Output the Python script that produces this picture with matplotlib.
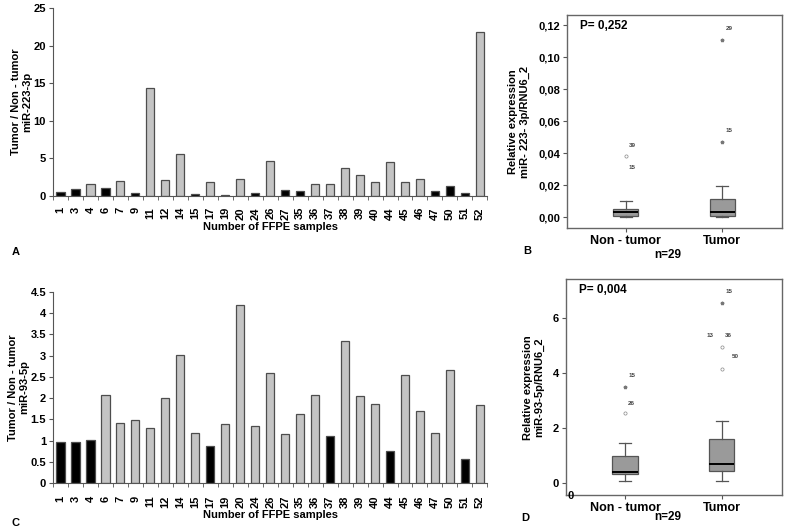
import matplotlib
matplotlib.use("Agg")
import matplotlib.pyplot as plt

plt.rcParams["font.family"] = ["Liberation Sans", "DejaVu Sans"]
plt.rcParams["font.weight"] = "bold"
plt.rcParams["axes.labelweight"] = "bold"

# samples (FFPE numbers)
samples = ["1", "3", "4", "6", "7", "9", "11", "12", "14", "15", "17", "19", "20", "24", "26",
           "27", "35", "36", "37", "38", "39", "40", "44", "45", "46", "47", "50", "51", "52"]

# A: miR-223-3p tumor / non-tumor
ratio_223 = [0.57, 0.88, 1.6, 1.06, 2.0, 0.35, 14.4, 2.1, 5.6, 0.2, 1.9, 0.1, 2.3, 0.45, 4.7,
             0.85, 0.65, 1.65, 1.55, 3.7, 2.8, 1.9, 4.5, 1.9, 2.3, 0.6, 1.35, 0.45, 21.8]
down_223 = ["1", "3", "6", "9", "15", "19", "24", "27", "35", "47", "50", "51"]

# C: miR-93-5p tumor / non-tumor
ratio_93 = [0.97, 0.98, 1.02, 2.07, 1.42, 1.49, 1.31, 2.0, 3.02, 1.19, 0.87, 1.4, 4.18, 1.34, 2.59,
            1.15, 1.63, 2.08, 1.1, 3.35, 2.05, 1.87, 0.76, 2.55, 1.7, 1.18, 2.66, 0.57, 1.85]
down_93 = ["1", "3", "4", "17", "37", "44", "51"]

groups = ["Non - tumor", "Tumor"]

# B: boxplot stats miR-223-3p
box_223 = [
    dict(whislo=0.0003, q1=0.001, med=0.003, q3=0.005, whishi=0.010),
    dict(whislo=0.0003, q1=0.001, med=0.003, q3=0.0115, whishi=0.0195),
]
out_223_stars = [[], [0.111, 0.047]]
out_223_circ = [[0.038], []]
out_223_labels = [[("39", 0.045), ("15", 0.031)], [("29", 0.118), ("15", 0.054)]]

# D: boxplot stats miR-93-5p
box_93 = [
    dict(whislo=0.1, q1=0.35, med=0.42, q3=0.98, whishi=1.47),
    dict(whislo=0.1, q1=0.45, med=0.72, q3=1.62, whishi=2.25),
]
out_93_stars = [[3.5], [6.55]]
out_93_circ = [[2.55], [4.95, 4.15]]
out_93_labels = [[("15", 3.9, 0.07), ("26", 2.9, 0.07)],
                 [("15", 6.95, 0.07), ("13", 5.35, -0.12), ("36", 5.35, 0.07), ("50", 4.6, 0.14)]]


def bar_panel(ax, values, down, ymax, yticks, ylabels, ylab, pad, labx):
    x = range(len(samples))
    colors = ["black" if s in down else "#c4c4c4" for s in samples]
    ax.bar(x, values, width=0.55, color=colors, edgecolor="#4d4d4d", linewidth=0.9)
    ax.set_xlim(-0.5, len(samples) - 0.5)
    ax.set_ylim(0, ymax)
    ax.set_xticks(list(x))
    ax.set_xticklabels(samples, rotation=90, fontsize=8, fontweight="bold")
    ax.set_xticks([i - 0.5 for i in range(len(samples) + 1)], minor=True)
    ax.tick_params(axis="x", which="major", length=0, pad=pad)
    ax.tick_params(axis="x", which="minor", length=3, direction="out", color="#555555")
    ax.set_yticks(yticks)
    ax.set_yticklabels(ylabels, fontsize=8, fontweight="bold")
    ax.tick_params(axis="y", length=3, color="#555555", pad=2)
    for side in ["top", "right"]:
        ax.spines[side].set_visible(False)
    for side in ["left", "bottom"]:
        ax.spines[side].set_color("#555555")
    ax.set_ylabel(ylab, fontsize=8, fontweight="bold")
    ax.yaxis.set_label_coords(labx, 0.5)
    ax.set_xlabel("Number of FFPE samples", fontsize=8, fontweight="bold", labelpad=1.5)


def box_panel(ax, stats, stars, circ, labels, ylim, yticks, ylabels, ylab, ptext):
    ax.bxp(stats, positions=[1, 2], widths=0.26, showfliers=False, patch_artist=True,
           boxprops=dict(facecolor="#9a9a9a", edgecolor="#555555", linewidth=0.9),
           medianprops=dict(color="black", linewidth=1.4),
           whiskerprops=dict(color="#555555", linewidth=0.9),
           capprops=dict(color="#555555", linewidth=0.9))
    for i in range(2):
        ax.plot([i + 1] * len(stars[i]), stars[i], "*", color="#777777", markersize=2.5, lw=0)
        ax.plot([i + 1] * len(circ[i]), circ[i], "o", mfc="none", mec="#888888",
                markersize=2.3, mew=0.5, lw=0)
        for lab in labels[i]:
            dx = lab[2] if len(lab) > 2 else 0.07
            ax.text(i + 1 + dx, lab[1], lab[0], fontsize=4.5, color="#444444",
                    ha="center", va="center")
    ax.set_xlim(0.39, 2.62)
    ax.set_ylim(*ylim)
    ax.set_xticks([1, 2])
    ax.set_xticklabels(groups, fontsize=9, fontweight="bold")
    ax.set_yticks(yticks)
    ax.set_yticklabels(ylabels, fontsize=8, fontweight="bold")
    ax.tick_params(length=3, color="#555555", pad=2)
    for side in ax.spines:
        ax.spines[side].set_color("#666666")
        ax.spines[side].set_linewidth(1.0)
    ax.set_ylabel(ylab, fontsize=8, fontweight="bold", labelpad=6)
    ax.text(0.06, 0.95, ptext, transform=ax.transAxes, fontsize=8.5, fontweight="bold",
            ha="left", va="center")


fig = plt.figure(figsize=(7.87, 5.29), dpi=100)

axA = fig.add_axes([0.0673, 0.6295, 0.552, 0.3555])
bar_panel(axA, ratio_223, down_223, 25, [0, 5, 10, 15, 20, 25],
          ["0", "5", "10", "15", "20", "25"], "Tumor / Non - tumor\nmiR-223-3p", 8, -0.047)

axC = fig.add_axes([0.0673, 0.0864, 0.552, 0.3622])
bar_panel(axC, ratio_93, down_93, 4.5, [0, 0.5, 1, 1.5, 2, 2.5, 3, 3.5, 4, 4.5],
          ["0", "0.5", "1", "1.5", "2", "2.5", "3", "3.5", "4", "4.5"],
          "Tumor / Non - tumor\nmiR-93-5p", 9, -0.054)

axB = fig.add_axes([0.7205, 0.569, 0.273, 0.4026])
box_panel(axB, box_223, out_223_stars, out_223_circ, out_223_labels, (-0.0067, 0.1264),
          [0, 0.02, 0.04, 0.06, 0.08, 0.10, 0.12],
          ["0,00", "0,02", "0,04", "0,06", "0,08", "0,10", "0,12"],
          "Relative expression\nmiR- 223- 3p/RNU6_2", "P= 0,252")

axD = fig.add_axes([0.719, 0.0643, 0.2745, 0.4077])
box_panel(axD, box_93, out_93_stars, out_93_circ, out_93_labels, (-0.42, 7.39),
          [0, 2, 4, 6], ["0", "2", "4", "6"],
          "Relative expression\nmiR-93-5p/RNU6_2", "P= 0,004")
axD.text(0.41, -0.45, "0", fontsize=8, fontweight="bold", ha="left", va="center")

fig.text(12 / 787, 1 - 252 / 529, "A", fontsize=8, fontweight="bold", ha="left", va="center")
fig.text(12 / 787, 1 - 523 / 529, "C", fontsize=8, fontweight="bold", ha="left", va="center")
fig.text(523 / 787, 1 - 251 / 529, "B", fontsize=8, fontweight="bold", ha="left", va="center")
fig.text(521 / 787, 1 - 518 / 529, "D", fontsize=8, fontweight="bold", ha="left", va="center")
fig.text(668 / 787, 1 - 255 / 529, "n=29", fontsize=8.5, fontweight="bold", ha="center", va="center")
fig.text(668 / 787, 1 - 517 / 529, "n=29", fontsize=8.5, fontweight="bold", ha="center", va="center")

fig.savefig("out.png", dpi=100)
